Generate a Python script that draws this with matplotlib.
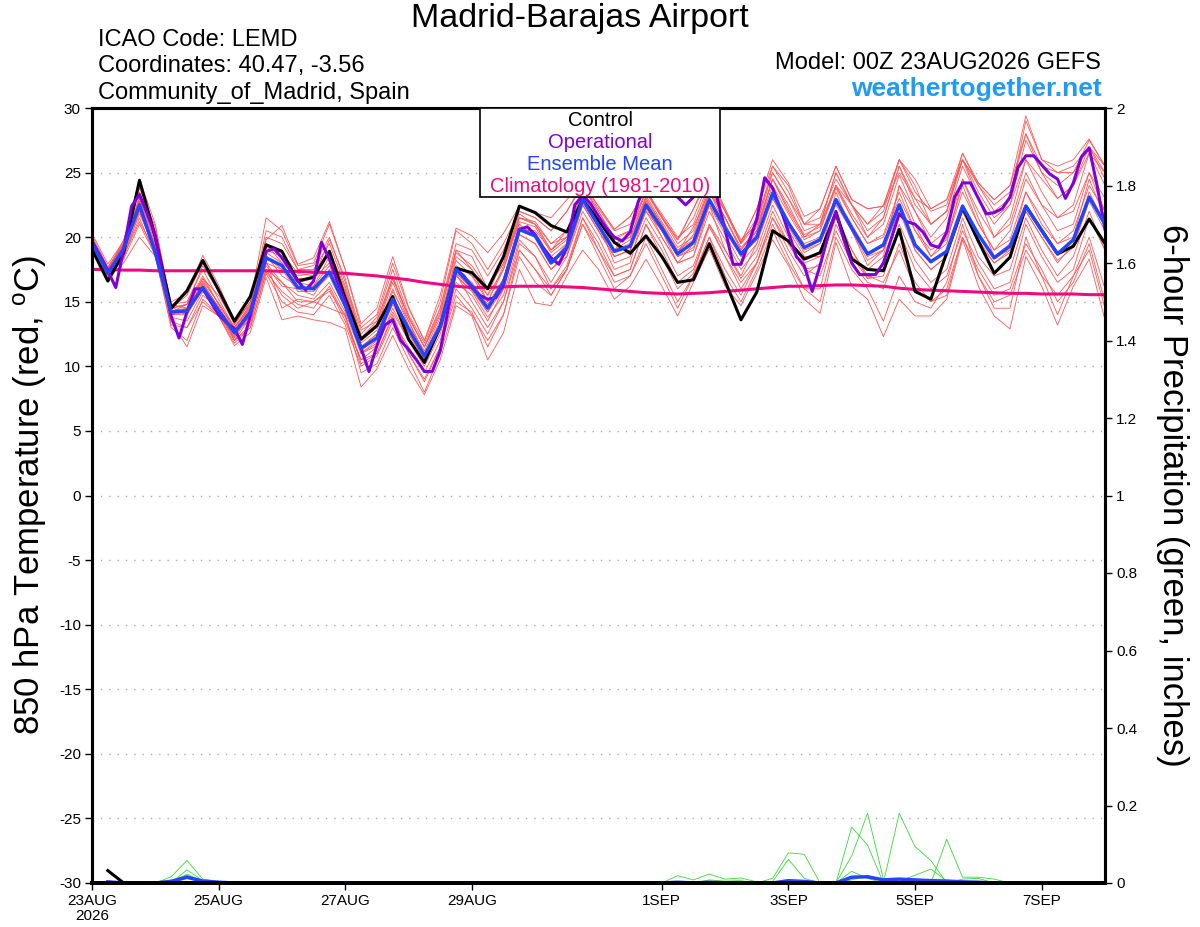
import numpy as np
import matplotlib
matplotlib.use('Agg')
import matplotlib.pyplot as plt
from matplotlib.patches import Rectangle

plt.rcParams['font.family'] = ['Liberation Sans', 'DejaVu Sans']
plt.rcParams['axes.unicode_minus'] = False
plt.rcParams['mathtext.default'] = 'regular'

# 6-hourly steps from 23AUG2026 00Z (hours), operational run is 3-hourly
hours = np.arange(65) * 6
hours_oper = np.arange(129) * 3

tick_hours = [0, 48, 96, 144, 216, 264, 312, 360]
tick_labels = ['23AUG\n2026', '25AUG', '27AUG', '29AUG', '1SEP', '3SEP', '5SEP', '7SEP']

# 850 hPa temperature (C)
ctrl_t850 = [19.05, 16.6, 18.8, 24.4, 20.0, 14.5, 15.85, 18.2, 15.9, 13.5,
             15.4, 19.4, 18.9, 16.6, 16.9, 18.9, 15.3, 12.1, 13.15, 15.4,
             12.1, 10.3, 13.1, 17.6, 17.25, 16.0, 18.5, 22.4, 21.9, 20.9,
             20.4, 22.9, 21.3, 19.6, 18.75, 20.1, 18.5, 16.5, 16.7, 19.5,
             16.6, 13.6, 15.75, 20.5, 19.7, 18.3, 18.8, 21.9, 18.3, 17.5,
             17.4, 20.6, 15.8, 15.2, 18.8, 22.3, 19.7, 17.2, 18.45, 22.4,
             20.55, 18.7, 19.3, 21.4, 19.5]

mean_t850 = [19.6, 17.2, 19.1, 22.5, 18.8, 14.2, 14.3, 16.1, 14.3, 12.6,
             14.2, 18.4, 17.8, 16.1, 16.0, 17.3, 14.7, 11.4, 12.2, 15.2,
             12.9, 10.8, 13.1, 17.5, 16.2, 14.5, 16.5, 20.6, 20.1, 18.0,
             19.2, 22.9, 20.9, 18.9, 19.3, 22.5, 20.7, 18.7, 19.6, 22.9,
             20.7, 18.7, 20.0, 23.4, 21.1, 19.2, 19.8, 22.9, 20.7, 18.7,
             19.4, 22.5, 19.4, 18.1, 18.9, 22.4, 20.2, 18.4, 19.3, 22.4,
             20.5, 18.7, 19.8, 23.1, 21.0]

clim_t850 = [17.5, 17.5, 17.45, 17.45, 17.4, 17.4, 17.4, 17.4, 17.4, 17.4,
             17.4, 17.4, 17.35, 17.35, 17.3, 17.25, 17.2, 17.1, 17.0, 16.85,
             16.7, 16.5, 16.35, 16.2, 16.1, 16.1, 16.15, 16.2, 16.2, 16.2,
             16.15, 16.1, 16.0, 15.9, 15.8, 15.7, 15.65, 15.6, 15.65, 15.7,
             15.8, 15.9, 16.0, 16.1, 16.2, 16.2, 16.25, 16.3, 16.3, 16.25,
             16.2, 16.05, 15.95, 15.9, 15.85, 15.8, 15.75, 15.7, 15.65, 15.65,
             15.6, 15.6, 15.6, 15.55, 15.55]

oper_t850 = [19.7, 18.6, 17.4, 16.1, 19.0, 22.4, 23.3, 21.8,
             20.1, 17.0, 13.9, 12.2, 14.2, 16.0, 16.0, 15.0,
             14.0, 13.4, 12.9, 11.7, 13.9, 16.4, 18.9, 19.1,
             18.4, 17.5, 16.6, 15.9, 16.6, 19.6, 18.3, 16.6,
             15.0, 13.1, 11.4, 9.6, 11.6, 13.2, 13.6, 12.0,
             11.3, 10.5, 9.6, 9.6, 11.2, 14.4, 17.5, 17.0,
             16.1, 15.5, 15.2, 15.3, 16.3, 18.5, 20.6, 20.8,
             20.2, 19.2, 18.4, 17.9, 19.2, 22.5, 23.2, 22.6,
             21.6, 20.7, 20.0, 19.7, 20.4, 22.7, 24.2, 24.5,
             24.0, 23.5, 23.1, 22.5, 23.1, 24.0, 24.3, 23.0,
             20.6, 17.9, 17.9, 19.6, 21.4, 24.6, 23.8, 22.2,
             20.4, 18.5, 17.8, 15.8, 17.8, 20.1, 22.0, 19.8,
             18.0, 17.1, 17.1, 17.1, 18.0, 19.9, 21.8, 21.2,
             21.0, 20.4, 19.4, 19.2, 20.4, 23.1, 24.2, 24.2,
             23.0, 21.8, 21.9, 22.2, 23.1, 25.4, 26.3, 26.3,
             25.6, 24.9, 24.5, 23.0, 24.2, 26.2, 26.9, 24.0,
             20.6]

ens_t850 = [
    [19.9, 17.5, 19.5, 24.0, 20.5, 14.8, 15.0, 17.5, 15.2, 13.0, 14.8, 20.5, 20.0, 17.5, 17.8, 20.0, 16.5,
     12.8, 13.5, 17.0, 13.8, 11.5, 14.0, 19.0, 18.5, 16.0, 18.0, 21.5, 21.0, 19.5, 20.5, 23.5, 21.0,
     18.0, 18.5, 21.5, 19.5, 17.0, 17.8, 21.0, 18.5, 16.5, 18.0, 21.5, 19.5, 17.5, 17.0, 20.5, 18.0,
     16.5, 16.0, 19.5, 16.5, 15.0, 16.0, 20.0, 17.5, 15.5, 16.0, 19.5, 17.5, 15.0, 16.5, 19.5, 15.0],
    [19.2, 17.0, 18.3, 21.0, 18.6, 13.2, 13.0, 15.0, 13.9, 11.8, 13.0, 17.2, 15.0, 14.2, 14.0, 15.5, 13.2,
     10.0, 10.8, 13.5, 11.5, 9.5, 12.0, 16.5, 15.5, 13.5, 16.0, 20.5, 20.5, 19.0, 20.5, 24.0, 22.0,
     20.0, 20.5, 23.5, 21.5, 19.5, 20.5, 24.0, 22.0, 19.5, 21.5, 25.0, 23.0, 21.0, 21.5, 24.5, 22.5,
     20.5, 21.5, 25.5, 23.0, 21.0, 22.0, 26.0, 23.5, 21.5, 22.5, 27.5, 25.0, 23.0, 24.0, 27.0, 25.0],
    [19.8, 17.4, 19.3, 23.0, 19.5, 14.5, 14.8, 16.8, 14.8, 13.0, 14.5, 19.0, 18.5, 16.8, 16.8, 18.0, 15.5,
     11.8, 12.8, 16.0, 13.2, 11.2, 13.8, 18.2, 17.0, 15.5, 17.5, 21.2, 20.8, 18.8, 19.8, 23.5, 21.5,
     19.5, 20.0, 23.2, 21.2, 19.2, 20.0, 23.5, 21.5, 19.2, 20.5, 24.0, 21.8, 19.8, 20.5, 23.8, 21.5,
     19.5, 20.2, 23.5, 20.5, 19.0, 19.8, 23.5, 21.0, 19.0, 19.8, 23.5, 21.5, 19.5, 20.5, 24.0, 22.0],
    [19.3, 17.0, 18.5, 21.5, 18.5, 13.0, 12.0, 15.2, 14.0, 12.0, 13.2, 18.0, 16.5, 15.0, 15.0, 16.0, 13.5,
     10.5, 11.5, 14.5, 12.0, 10.0, 12.5, 17.0, 15.8, 13.8, 15.5, 19.8, 18.5, 16.0, 17.5, 21.0, 19.0,
     17.0, 17.5, 21.0, 19.0, 16.5, 17.5, 20.8, 18.5, 16.0, 18.0, 21.5, 19.0, 17.0, 18.0, 21.5, 18.5,
     16.8, 17.5, 20.5, 17.5, 16.0, 17.0, 20.5, 18.0, 16.0, 16.5, 21.0, 18.5, 16.5, 17.5, 21.5, 19.0],
    [19.7, 17.3, 19.0, 22.8, 19.2, 14.0, 14.5, 16.5, 14.5, 12.5, 14.0, 18.5, 17.5, 16.5, 16.2, 18.5, 15.2,
     11.5, 12.5, 15.8, 13.5, 11.0, 13.0, 17.8, 17.0, 15.0, 17.5, 21.5, 21.0, 19.0, 20.0, 23.8, 22.0,
     19.8, 20.5, 23.5, 21.8, 20.0, 21.0, 24.2, 22.0, 19.8, 21.0, 25.0, 23.0, 20.5, 21.0, 25.0, 22.5,
     20.0, 21.5, 25.5, 22.5, 21.0, 22.0, 26.0, 24.0, 22.0, 23.0, 29.0, 26.0, 25.0, 25.5, 27.0, 24.5],
    [19.5, 17.1, 19.2, 22.0, 18.8, 14.2, 14.2, 16.0, 14.0, 12.2, 14.0, 17.5, 16.5, 15.5, 15.2, 16.5, 14.2,
     11.0, 12.0, 14.8, 12.5, 10.5, 13.0, 17.2, 16.0, 14.2, 16.5, 20.2, 19.5, 17.5, 18.5, 22.5, 20.5,
     18.5, 19.0, 22.0, 20.5, 18.5, 19.2, 22.5, 20.5, 18.5, 19.8, 23.0, 21.0, 19.0, 19.5, 22.5, 20.5,
     18.5, 19.0, 22.0, 19.0, 17.5, 18.5, 22.0, 19.5, 18.0, 19.0, 22.0, 20.0, 18.0, 19.5, 23.5, 21.0],
    [19.9, 17.6, 19.6, 24.5, 21.0, 14.5, 15.5, 18.0, 16.0, 13.2, 15.0, 21.5, 20.5, 17.8, 18.0, 21.0, 17.5,
     13.0, 14.0, 18.0, 14.5, 12.0, 15.0, 20.5, 19.5, 17.5, 19.5, 22.0, 21.5, 20.5, 22.0, 24.0, 22.2,
     20.5, 21.0, 23.5, 21.5, 19.8, 21.5, 24.5, 22.0, 19.5, 21.0, 25.5, 24.0, 21.0, 21.0, 25.0, 22.5,
     21.0, 22.0, 26.0, 24.0, 21.0, 22.0, 26.5, 24.0, 22.5, 23.5, 28.0, 25.0, 24.0, 25.0, 27.5, 25.5],
    [19.0, 16.8, 18.0, 20.0, 18.5, 13.5, 11.5, 14.7, 13.9, 11.6, 12.6, 16.9, 13.6, 13.9, 13.6, 13.4, 12.9,
     8.4, 9.8, 12.4, 9.8, 7.8, 10.5, 14.7, 13.9, 10.5, 12.6, 17.5, 14.9, 14.7, 17.0, 19.0, 17.5,
     15.2, 16.2, 18.3, 16.2, 13.9, 16.5, 19.1, 16.2, 14.7, 17.2, 19.8, 17.8, 15.2, 14.1, 19.6, 16.2,
     15.2, 12.3, 15.2, 13.9, 13.9, 15.2, 19.8, 16.2, 13.9, 12.9, 18.5, 16.2, 13.2, 16.2, 18.3, 13.6],
    [20.1, 17.7, 19.5, 23.5, 20.0, 14.5, 14.8, 17.8, 15.8, 13.3, 15.0, 20.0, 19.5, 17.5, 17.5, 19.5, 16.2,
     12.5, 13.8, 17.5, 14.0, 11.8, 14.5, 19.5, 19.0, 17.0, 19.0, 22.0, 21.5, 20.5, 22.0, 24.2, 22.4,
     20.6, 21.6, 23.7, 21.6, 19.8, 22.2, 25.0, 22.2, 19.6, 22.2, 26.0, 24.2, 21.6, 22.2, 25.5, 22.9,
     22.2, 22.4, 26.0, 24.5, 22.2, 22.9, 26.5, 24.2, 22.9, 24.0, 29.4, 26.0, 25.5, 26.0, 27.6, 25.5],
    [19.4, 17.1, 18.9, 22.2, 18.6, 14.0, 14.0, 16.0, 14.2, 12.4, 13.9, 18.0, 17.5, 15.8, 15.8, 17.0, 14.5,
     11.0, 11.8, 15.0, 12.6, 10.6, 12.8, 17.0, 15.9, 14.2, 16.0, 20.2, 19.5, 17.5, 18.8, 22.5, 20.5,
     18.5, 19.0, 22.2, 20.5, 18.5, 19.0, 22.5, 20.2, 18.0, 19.5, 23.0, 20.8, 18.8, 19.5, 22.8, 20.5,
     18.2, 19.0, 22.5, 19.0, 17.5, 18.5, 22.0, 19.8, 18.0, 18.8, 22.0, 20.0, 18.2, 19.2, 22.8, 20.5],
    [19.6, 17.3, 19.3, 22.3, 19.0, 13.5, 13.0, 15.5, 14.5, 12.8, 13.5, 17.5, 15.5, 14.5, 15.0, 15.8, 14.0,
     10.2, 11.0, 14.0, 11.0, 9.0, 11.5, 15.5, 14.0, 12.0, 14.0, 19.0, 17.5, 15.5, 17.5, 21.5, 19.0,
     16.5, 17.0, 20.0, 17.5, 15.0, 17.0, 20.0, 17.5, 15.5, 18.0, 21.0, 18.5, 16.0, 16.0, 21.0, 18.5,
     17.5, 18.5, 24.0, 22.0, 20.0, 21.5, 25.5, 23.0, 20.0, 21.5, 26.0, 23.5, 21.5, 22.5, 26.5, 24.0],
    [19.8, 17.5, 19.8, 23.8, 20.8, 14.8, 14.5, 16.8, 15.5, 13.4, 15.3, 19.5, 18.0, 17.0, 17.2, 19.0, 16.0,
     12.2, 13.5, 16.8, 13.8, 11.5, 14.5, 19.0, 17.5, 15.5, 18.5, 21.0, 20.0, 18.5, 19.5, 23.0, 21.0,
     19.0, 20.5, 23.0, 21.0, 18.8, 20.8, 23.5, 21.5, 19.0, 20.5, 24.5, 22.5, 20.0, 20.5, 24.0, 21.5,
     19.5, 20.0, 23.0, 20.5, 18.5, 20.0, 24.0, 21.0, 19.0, 20.5, 24.5, 22.5, 20.5, 21.0, 25.0, 22.0],
    [19.2, 16.9, 18.6, 21.2, 18.9, 13.8, 13.5, 15.8, 14.5, 12.0, 13.0, 17.3, 15.8, 14.8, 14.5, 16.2, 13.8,
     10.5, 11.0, 13.8, 11.0, 8.8, 11.5, 16.0, 14.5, 12.5, 15.0, 19.0, 17.5, 16.0, 17.8, 21.5, 19.5,
     17.0, 17.5, 21.0, 18.5, 16.0, 17.2, 21.0, 19.0, 16.8, 18.5, 22.0, 19.5, 17.5, 17.8, 21.8, 19.0,
     16.8, 17.0, 21.0, 18.2, 16.5, 17.5, 21.5, 18.5, 17.0, 17.5, 21.5, 19.0, 17.0, 18.5, 22.0, 19.0],
    [19.6, 17.2, 19.0, 23.2, 19.8, 14.2, 14.8, 17.0, 14.8, 12.9, 14.6, 19.5, 19.0, 16.5, 16.8, 19.8, 16.8,
     12.0, 13.0, 16.5, 13.5, 11.0, 13.5, 18.5, 17.5, 15.0, 17.8, 21.5, 21.2, 19.5, 20.0, 23.0, 21.5,
     19.0, 19.8, 22.8, 20.5, 18.0, 19.5, 23.5, 21.0, 18.5, 20.5, 24.5, 22.0, 20.0, 21.0, 24.0, 22.5,
     21.0, 22.5, 26.0, 23.5, 22.0, 22.5, 26.0, 23.0, 21.0, 22.5, 26.0, 24.5, 23.0, 24.0, 26.5, 25.0],
    [19.5, 17.2, 19.1, 22.6, 18.9, 14.0, 14.2, 16.2, 14.4, 12.7, 14.2, 18.6, 17.0, 16.2, 16.0, 17.2, 14.5,
     11.2, 12.2, 15.0, 12.8, 10.8, 13.2, 17.6, 16.4, 14.5, 16.8, 20.5, 20.0, 18.0, 19.5, 22.5, 20.5,
     18.5, 19.0, 22.0, 20.0, 18.0, 18.5, 22.0, 19.8, 17.5, 19.0, 22.5, 20.0, 18.0, 18.5, 21.5, 19.0,
     17.0, 16.5, 19.0, 16.0, 15.0, 15.5, 20.0, 17.0, 15.0, 15.5, 19.0, 17.0, 15.5, 17.0, 20.0, 16.0],
    [20.3, 17.9, 19.7, 24.2, 20.2, 15.0, 15.6, 18.6, 16.3, 13.5, 14.8, 19.8, 20.9, 17.9, 18.4, 21.2, 17.5,
     13.3, 14.5, 18.5, 14.6, 12.0, 15.5, 20.7, 20.1, 18.8, 20.3, 22.4, 21.9, 21.5, 22.9, 24.2, 22.4,
     20.6, 21.6, 23.7, 21.6, 19.8, 22.2, 24.5, 22.2, 19.6, 22.2, 25.5, 23.5, 21.0, 22.2, 25.5, 22.9,
     22.2, 22.4, 25.0, 23.0, 22.2, 22.9, 26.0, 24.2, 22.9, 24.0, 28.0, 25.5, 25.0, 25.0, 27.0, 25.5],
    [19.7, 17.4, 19.4, 22.7, 19.3, 14.3, 14.5, 16.4, 14.6, 12.8, 14.4, 18.8, 18.0, 16.0, 16.2, 17.8, 15.0,
     11.5, 12.5, 15.5, 13.0, 11.0, 13.3, 17.5, 16.5, 14.8, 16.8, 20.8, 20.3, 18.2, 19.2, 23.0, 21.0,
     19.0, 19.5, 22.8, 21.0, 19.0, 19.8, 23.0, 21.0, 18.8, 20.2, 23.5, 21.2, 19.5, 20.0, 23.0, 21.0,
     18.8, 19.5, 22.5, 19.5, 18.0, 19.0, 22.5, 20.2, 18.5, 19.5, 22.5, 20.5, 18.8, 19.8, 23.0, 21.0],
    [19.5, 17.0, 18.7, 21.8, 19.2, 14.6, 14.0, 16.3, 14.0, 12.3, 14.2, 17.8, 16.2, 16.0, 15.5, 17.5, 15.0,
     11.0, 11.6, 14.2, 12.0, 10.2, 12.8, 17.2, 15.0, 13.0, 15.0, 19.5, 18.5, 16.5, 18.5, 22.0, 20.0,
     17.5, 18.0, 22.5, 20.0, 18.0, 18.5, 22.5, 19.0, 17.0, 19.5, 23.5, 20.5, 18.5, 18.5, 23.5, 20.5,
     17.8, 19.0, 24.0, 21.0, 18.5, 19.5, 24.5, 21.5, 18.5, 19.0, 23.5, 21.0, 19.5, 20.0, 24.5, 21.5],
    [19.3, 17.0, 18.4, 22.0, 19.5, 14.4, 14.0, 16.0, 14.6, 12.0, 13.8, 18.2, 14.5, 15.2, 15.0, 14.5, 14.0,
     9.5, 10.2, 13.0, 10.5, 8.0, 11.0, 15.0, 14.2, 11.5, 14.0, 18.5, 16.5, 15.5, 17.5, 21.0, 18.5,
     16.0, 17.0, 19.5, 17.0, 14.5, 17.0, 20.0, 17.0, 15.0, 17.5, 20.5, 18.0, 16.0, 15.0, 20.0, 17.5,
     16.0, 13.5, 17.0, 15.0, 14.5, 16.5, 21.0, 17.0, 14.5, 14.5, 20.0, 17.0, 14.0, 17.0, 19.0, 14.5],
    [19.8, 17.5, 19.4, 23.0, 19.8, 14.5, 14.8, 16.6, 14.9, 13.0, 14.7, 19.2, 18.8, 17.2, 17.0, 18.8, 15.8,
     12.0, 13.2, 16.8, 13.8, 11.5, 14.2, 18.8, 17.8, 16.0, 18.0, 21.8, 21.0, 19.0, 20.0, 23.5, 21.8,
     19.5, 20.0, 23.0, 21.0, 18.8, 20.2, 23.8, 21.5, 19.0, 20.8, 24.5, 22.2, 20.2, 20.8, 24.0, 21.8,
     20.0, 21.0, 24.8, 22.0, 19.5, 20.5, 24.5, 22.0, 20.0, 21.0, 25.0, 22.5, 21.5, 22.0, 25.0, 23.0],
]

# 6-hour precipitation (inches), step index -> value, zero elsewhere
ctrl_precip = {1: 0.032}
mean_precip = {1: 0.003, 5: 0.004, 6: 0.015, 7: 0.005, 8: 0.002, 37: 0.002, 39: 0.002,
               44: 0.006, 45: 0.004, 48: 0.015, 49: 0.016, 50: 0.008, 51: 0.01,
               52: 0.008, 53: 0.006, 54: 0.005, 55: 0.003, 56: 0.002}
ens_precip = [
    {5: 0.016, 6: 0.058, 7: 0.01, 8: 0.004},
    {6: 0.034, 7: 0.006},
    {6: 0.023, 7: 0.004},
    {6: 0.012},
    {4: 0.003, 5: 0.008, 6: 0.02, 7: 0.005},
    {37: 0.019, 38: 0.008, 39: 0.023, 40: 0.01, 41: 0.013, 42: 0.003},
    {43: 0.012, 44: 0.078, 45: 0.074},
    {43: 0.004, 44: 0.061, 45: 0.012},
    {48: 0.144, 49: 0.098},
    {48: 0.07, 49: 0.18, 50: 0.01},
    {51: 0.18, 52: 0.094, 53: 0.058},
    {54: 0.113, 55: 0.015, 56: 0.015, 57: 0.01},
    {51: 0.005, 52: 0.02, 53: 0.036, 54: 0.005},
    {48: 0.008, 49: 0.02, 50: 0.005, 55: 0.01, 56: 0.012},
    {39: 0.008, 40: 0.005, 41: 0.006, 44: 0.006},
    {48: 0.03, 49: 0.012, 52: 0.01},
]


def precip_series(d):
    s = np.zeros(65)
    for k, v in d.items():
        s[k] = v
    return s[1:]


C_RED = '#FF5555'
C_GREEN = '#33DD33'
C_PURPLE = '#8000DC'
C_BLUE = '#2244FF'
C_PINK = '#F00A82'

fig = plt.figure(figsize=(12, 9.27), dpi=100)
ax = fig.add_axes([92 / 1200, 44 / 927, 1013 / 1200, 775 / 927])
ax.set_xlim(0, 384)
ax.set_ylim(-30, 30)

for m in ens_t850:
    ax.plot(hours, m, color=C_RED, lw=0.6, zorder=2)
ax.plot(hours, clim_t850, color=C_PINK, lw=2.2, zorder=3)
ax.plot(hours, ctrl_t850, color='black', lw=2.2, zorder=4)
ax.plot(hours_oper, oper_t850, color=C_PURPLE, lw=2.2, zorder=5)
ax.plot(hours, mean_t850, color=C_BLUE, lw=2.5, zorder=6)

ax.set_yticks(range(-30, 31, 5))
ax.yaxis.grid(True, linestyle=(0, (1, 5)), color='#AAAAAA', lw=1)
ax.set_xticks(tick_hours)
ax.set_xticklabels(tick_labels, linespacing=1.05)
ax.tick_params(axis='both', direction='out', length=5, width=1, labelsize=11, pad=3)

ax2 = ax.twinx()
ax2.set_ylim(0, 2)
for d in ens_precip:
    ax2.plot(hours[1:], precip_series(d), color=C_GREEN, lw=0.6, zorder=2)
ax2.plot(hours[1:], precip_series(mean_precip), color=C_BLUE, lw=2.5, zorder=2.2)
ax2.plot(hours[1:], precip_series(ctrl_precip), color='black', lw=2.2, zorder=2.1)
ax2.set_yticks(np.arange(0, 2.01, 0.2))
ax2.set_yticklabels(['0', '0.2', '0.4', '0.6', '0.8', '1', '1.2', '1.4', '1.6', '1.8', '2'])
ax2.tick_params(axis='y', direction='out', length=5, width=1, labelsize=11, pad=3)

for a in (ax, ax2):
    for side in ('left', 'right', 'top'):
        a.spines[side].set_linewidth(2.2)
    a.spines['bottom'].set_linewidth(2.8)

# legend box
ax2.add_patch(Rectangle((0.383, 0.8852), 0.2369, 0.1148, transform=ax2.transAxes,
                        facecolor='white', edgecolor='black', lw=1.2, zorder=10, clip_on=False))
leg_items = [('Control', 'black'), ('Operational', C_PURPLE),
             ('Ensemble Mean', C_BLUE), ('Climatology (1981-2010)', C_PINK)]
for k, (txt, col) in enumerate(leg_items):
    ax2.text(0.5015, 0.9835 - k * 0.0282, txt, color=col, fontsize=14.5, ha='center', va='center',
             transform=ax2.transAxes, zorder=11)

# header and axis titles
fig.text(580 / 1200, 1 - 18 / 927, 'Madrid-Barajas Airport', ha='center', va='center', fontsize=24.5)
fig.text(98 / 1200, 1 - 40 / 927, 'ICAO Code: LEMD', ha='left', va='center', fontsize=17)
fig.text(98 / 1200, 1 - 66 / 927, 'Coordinates: 40.47, -3.56', ha='left', va='center', fontsize=17)
fig.text(98 / 1200, 1 - 93 / 927, 'Community_of_Madrid, Spain', ha='left', va='center', fontsize=17)
fig.text(1101 / 1200, 1 - 63 / 927, 'Model: 00Z 23AUG2026 GEFS', ha='right', va='center', fontsize=17)
fig.text(1102 / 1200, 1 - 89 / 927, 'weathertogether.net', ha='right', va='center', fontsize=19,
         fontweight='bold', color='#1E9BF5')
fig.text(30 / 1200, 1 - 495 / 927, '850 hPa Temperature (red, $^{o}$C)', rotation=90,
         ha='center', va='center', fontsize=25)
fig.text(1172 / 1200, 1 - 495 / 927, '6-hour Precipitation (green, inches)', rotation=-90,
         ha='center', va='center', fontsize=25)

fig.savefig('out.png', dpi=100)
